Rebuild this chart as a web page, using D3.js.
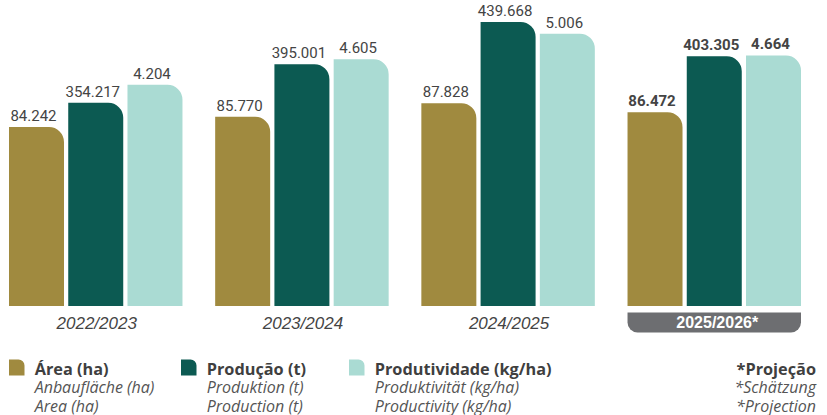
<!DOCTYPE html>
<html>
<head>
<meta charset="utf-8">
<script src="https://cdn.jsdelivr.net/npm/d3@7/dist/d3.min.js"></script>
<style>
  html, body { margin: 0; padding: 0; background: #ffffff; }
  svg { display: block; }
</style>
</head>
<body>
<svg id="chart" width="827" height="415"></svg>
<script>
// Safras
const seasons = ["2022/2023", "2023/2024", "2024/2025", "2025/2026*"];
const projectedSeason = "2025/2026*";

// Séries
const seriesKeys = ["area", "producao", "produtividade"];
const areaHa = [84242, 85770, 87828, 86472];
const producaoT = [354217, 395001, 439668, 403305];
const produtividadeKgHa = [4204, 4605, 5006, 4664];

// Legenda
const legendTitles = ["Área (ha)", "Produção (t)", "Produtividade (kg/ha)"];
const legendGerman = ["Anbaufläche (ha)", "Produktion (t)", "Produktivität (kg/ha)"];
const legendEnglish = ["Area (ha)", "Production (t)", "Productivity (kg/ha)"];
const noteLines = ["*Projeção", "*Schätzung", "*Projection"];

const colors = { area: "#a08a3f", producao: "#0c5a52", produtividade: "#aadbd3" };
const values = { area: areaHa, producao: producaoT, produtividade: produtividadeKgHa };

const svg = d3.select("#chart");
const baseY = 306, topY = 20;

// each series has its own vertical scale
const yScales = {
  area: d3.scaleLinear().domain([57400, 100300]).range([baseY, topY]),
  producao: d3.scaleLinear().domain([139200, 441750]).range([baseY, topY]),
  produtividade: d3.scaleLinear().domain([740, 5220]).range([baseY, topY])
};

const x0 = d3.scaleBand().domain(seasons).range([9, 801]).paddingInner(0.1586);
const x1 = d3.scaleBand().domain(seriesKeys).range([0, x0.bandwidth()]).paddingInner(0.0717);

const ptBR = d3.formatLocale({ decimal: ",", thousands: ".", grouping: [3], currency: ["R$ ", ""] });
const fmt = ptBR.format(",d");

function topRoundedBar(x, y, w, h, r) {
  const p = d3.path();
  p.moveTo(x, y + h);
  p.lineTo(x, y);
  p.lineTo(x + w - r, y);
  p.arcTo(x + w, y, x + w, y + r, r);
  p.lineTo(x + w, y + h);
  p.closePath();
  return p.toString();
}

const rows = seasons.map((s, i) => ({
  season: s,
  bars: seriesKeys.map(k => ({ key: k, value: values[k][i], season: s }))
}));

const groups = svg.selectAll("g.season")
  .data(rows)
  .join("g")
  .attr("class", "season")
  .attr("transform", d => `translate(${x0(d.season)},0)`);

groups.selectAll("path.bar")
  .data(d => d.bars)
  .join("path")
  .attr("class", "bar")
  .attr("fill", d => colors[d.key])
  .attr("d", d => {
    const y = yScales[d.key](d.value);
    return topRoundedBar(x1(d.key), y, x1.bandwidth(), baseY - y, 15);
  });

groups.selectAll("text.value")
  .data(d => d.bars)
  .join("text")
  .attr("class", "value")
  .attr("x", d => x1(d.key) + x1.bandwidth() / 2 - 3)
  .attr("y", d => yScales[d.key](d.value) - 6)
  .attr("text-anchor", "middle")
  .attr("font-family", "Roboto, 'Liberation Sans', sans-serif")
  .attr("font-size", 15)
  .attr("font-weight", d => d.season === projectedSeason ? "bold" : "normal")
  .attr("fill", "#444444")
  .text(d => fmt(d.value));

// season labels
groups.each(function (d) {
  const g = d3.select(this);
  const w = x0.bandwidth();
  if (d.season === projectedSeason) {
    const h = 20, r = 10, y = 312.5;
    const p = d3.path();
    p.moveTo(0, y);
    p.lineTo(w, y);
    p.lineTo(w, y + h - r);
    p.arcTo(w, y + h, w - r, y + h, r);
    p.lineTo(r, y + h);
    p.arcTo(0, y + h, 0, y + h - r, r);
    p.closePath();
    g.append("path").attr("d", p.toString()).attr("fill", "#6d6e71");
    g.append("text")
      .attr("x", w / 2 + 3)
      .attr("y", 328)
      .attr("text-anchor", "middle")
      .attr("font-family", "'Liberation Sans', Arial, sans-serif")
      .attr("font-weight", "bold")
      .attr("font-size", 16)
      .attr("fill", "#ffffff")
      .text(d.season);
  } else {
    g.append("text")
      .attr("x", w / 2 + 1)
      .attr("y", 328.5)
      .attr("text-anchor", "middle")
      .attr("font-family", "'Liberation Sans', Arial, sans-serif")
      .attr("font-style", "italic")
      .attr("font-size", 17)
      .attr("fill", "#444444")
      .text(d.season);
  }
});

// legend: swatch plus a three-line text block per series
const legendX = [9, 181, 349];
const legendFont = "'Open Sans', Lato, sans-serif";
const lineY = [375, 392.7, 411.5];

const legend = svg.selectAll("g.legend")
  .data(seriesKeys)
  .join("g")
  .attr("class", "legend")
  .attr("transform", (d, i) => `translate(${legendX[i]},0)`);

legend.append("path")
  .attr("fill", d => colors[d])
  .attr("d", topRoundedBar(0, 359.5, 15.5, 16, 6));

const legendText = legend.append("text")
  .attr("font-family", legendFont);

legendText.append("tspan")
  .attr("x", 25.7).attr("y", lineY[0])
  .attr("font-weight", "bold").attr("font-size", 16.3).attr("fill", "#3f3f3f")
  .text((d, i) => legendTitles[i]);

legendText.append("tspan")
  .attr("x", 25.7).attr("y", lineY[1])
  .attr("font-style", "italic").attr("font-size", 16).attr("fill", "#555555")
  .text((d, i) => legendGerman[i]);

legendText.append("tspan")
  .attr("x", 25.7).attr("y", lineY[2])
  .attr("font-style", "italic").attr("font-size", 16).attr("fill", "#555555")
  .text((d, i) => legendEnglish[i]);

// projection note
const note = svg.append("text")
  .attr("font-family", legendFont)
  .attr("text-anchor", "end");

note.selectAll("tspan")
  .data(noteLines)
  .join("tspan")
  .attr("x", 816)
  .attr("y", (d, i) => lineY[i])
  .attr("font-weight", (d, i) => i === 0 ? "bold" : "normal")
  .attr("font-style", (d, i) => i === 0 ? "normal" : "italic")
  .attr("font-size", (d, i) => i === 0 ? 16.3 : 16)
  .attr("fill", (d, i) => i === 0 ? "#3f3f3f" : "#555555")
  .text(d => d);
</script>
</body>
</html>
